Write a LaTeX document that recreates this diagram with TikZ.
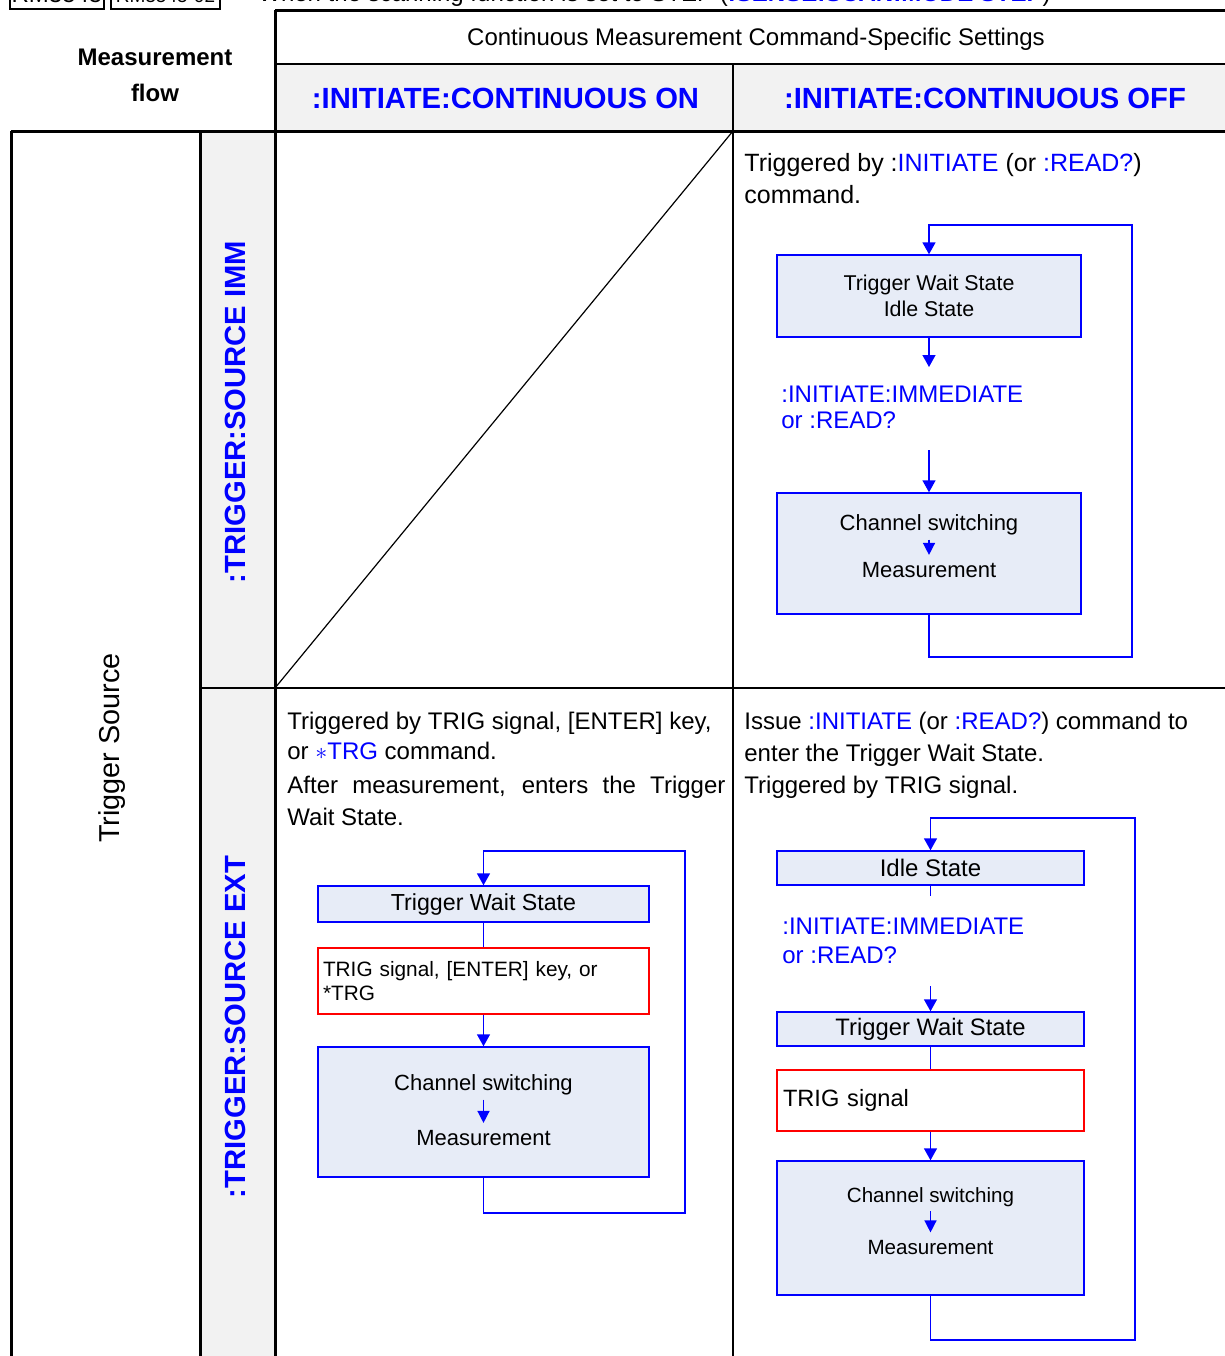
\documentclass[tikz,border=0pt]{standalone}
\usepackage{fontspec}
\setmainfont{Liberation Sans}
\usetikzlibrary{arrows.meta}

\definecolor{cmdblue}{RGB}{0,0,255}
\definecolor{boxfill}{RGB}{231,236,247}
\definecolor{hdrgray}{RGB}{242,242,242}

\newcommand{\cmd}[1]{\textcolor{cmdblue}{#1}}
\newcommand{\fs}[2]{\fontsize{#1}{#2}\selectfont}

\tikzset{
  thickrule/.style={line width=1.5pt},
  thinrule/.style={line width=0.6pt},
  celltext/.style={anchor=base west,inner sep=0pt,align=left,font=\fs{12}{16}},
  cmdtext/.style={anchor=base west,inner sep=0pt,align=left,text=cmdblue},
  colhdr/.style={font=\fs{14.6}{16}\bfseries,text=cmdblue,inner sep=0pt},
  statebox/.style={draw=cmdblue,fill=boxfill,line width=0.7pt,inner sep=0pt},
  trigbox/.style={draw=red,fill=white,line width=0.7pt,inner ysep=0pt,align=left},
  flowtext/.style={inner sep=0pt,font=\fs{11}{13}},
  flowline/.style={draw=cmdblue,line width=0.7pt},
  flowarrow/.style={flowline,-{Triangle[width=6.5pt,length=6pt]}},
  smallarrow/.style={flowline,-{Triangle[width=6pt,length=6pt]},shorten <=2pt,shorten >=3.5pt},
  looparrow/.style={draw=cmdblue,line width=0.8pt,-{Triangle[width=6.5pt,length=6pt]}}
}

\begin{document}
\begin{tikzpicture}[x=0.5pt,y=-0.5pt]
	\useasboundingbox (0,0) rectangle (1225,1356);
	%
	% line cut off at the top of the page
	\draw[thinrule] (10,-40) rectangle (104,9);
	\draw[thinrule] (111,-40) rectangle (220,9);
	\node[anchor=base,inner sep=0pt,font=\fs{12}{14}] (modelA) at (57,2) {RM3545};
	\node[anchor=base,inner sep=0pt,font=\fs{9.5}{12}] (modelB) at (165.5,2) {RM3545-02};
	\node[celltext] (scanmode) at (258,1) {When the scanning function is set to STEP (\textbf{\cmd{:SENSE:SCAN:MODE STEP}})};
	%
	% table
	\fill[hdrgray] (275,64) rectangle (1225,131);
	\fill[hdrgray] (200,131) rectangle (275,1356);
	\draw[thinrule] (275,64) -- (1225,64);
	\draw[thinrule] (733,64) -- (733,1356);
	\draw[thinrule] (200,688) -- (1225,688);
	\draw[thinrule] (275,688) -- (733,131);
	\draw[thickrule] (275,10) -- (1225,10);
	\draw[thickrule] (275,10) -- (275,1356);
	\draw[thickrule] (11,131) -- (1225,131);
	\draw[thickrule] (11,131) -- (11,1356);
	\draw[thickrule] (200,131) -- (200,1356);
	%
	\node[font=\fs{12}{18}\bfseries,align=center] (flowhdr) at (155,75) {Measurement\\flow};
	\node[font=\fs{12}{14}] (conthdr) at (756,39) {Continuous Measurement Command-Specific Settings};
	\node[colhdr] (conton) at (505.5,98) {:INITIATE:CONTINUOUS ON};
	\node[colhdr] (contoff) at (985,98) {:INITIATE:CONTINUOUS OFF};
	\node[colhdr,rotate=90] (srcimm) at (235,412) {:TRIGGER:SOURCE IMM};
	\node[colhdr,rotate=90] (srcext) at (235,1027) {:TRIGGER:SOURCE EXT};
	\node[font=\fs{14.4}{16},rotate=90,inner sep=0pt] (trigsrc) at (112,748) {Trigger Source};
	%
	% IMM / OFF
	\node[celltext,font=\fs{12.5}{16}] (immoff) at (744,203) {Triggered by :\cmd{INITIATE} (or \cmd{:READ?})\\command.};
	\node[statebox,minimum width=152pt,minimum height=41pt,align=center,font=\fs{10.7}{13}] (waitA) at (929,296) {Trigger Wait State\\Idle State};
	\coordinate (arrA) at (929,367);
	\node[cmdtext,font=\fs{12}{13}] (initA) at (781,428) {:INITIATE:IMMEDIATE\\or :READ?};
	\coordinate (fromA) at (929,450);
	\node[statebox,minimum width=152pt,minimum height=60.5pt] (chanA) at (929,553.5) {};
	\node[flowtext] (chA) at (929,525) {Channel switching};
	\node[flowtext] (msA) at (929,570) {Measurement};
	\coordinate (loopA1) at (1132,657);
	\coordinate (loopA2) at (1132,225);
	\draw[flowarrow] (waitA) -- (arrA);
	\draw[flowarrow] (fromA) -- (chanA);
	\draw[smallarrow] (chA) -- (msA);
	\draw[looparrow] (chanA) |- (loopA1) -- (loopA2) -| (waitA);
	%
	% EXT / ON
	\node[celltext,font=\fs{12}{15}] (exton) at (287,759) {Triggered by TRIG signal, [ENTER] key,\\or \cmd{$\ast$TRG} command.};
	\node[celltext] (extonB) at (287,825) {\makebox[219pt][s]{After measurement, enters the Trigger}\\Wait State.};
	\node[statebox,minimum width=165.5pt,minimum height=18pt,font=\fs{11.6}{14}] (waitB) at (483.5,904) {Trigger Wait State};
	\node[trigbox,text width=160.5pt,inner xsep=2.5pt,minimum height=33pt,font=\fs{10.4}{12}] (trigB) at (483.5,981) {TRIG signal, [ENTER] key, or\\{}*TRG};
	\node[statebox,minimum width=165.5pt,minimum height=65pt] (chanB) at (483.5,1112) {};
	\node[flowtext] (chB) at (483.5,1085) {Channel switching};
	\node[flowtext] (msB) at (483.5,1138) {Measurement};
	\coordinate (loopB1) at (685,1213);
	\coordinate (loopB2) at (685,851);
	\draw[flowline] (waitB) -- (trigB);
	\draw[flowarrow] (trigB) -- (chanB);
	\draw[smallarrow] (chB) -- (msB);
	\draw[looparrow] (chanB) |- (loopB1) -- (loopB2) -| (waitB);
	%
	% EXT / OFF
	\node[celltext] (extoff) at (744,793) {Issue \cmd{:INITIATE} (or \cmd{:READ?}) command to\\enter the Trigger Wait State.\\Triggered by TRIG signal.};
	\node[statebox,minimum width=153.5pt,minimum height=17pt,font=\fs{12}{14}] (idleC) at (930.5,868) {Idle State};
	\coordinate (idleCend) at (930.5,896);
	\node[cmdtext,font=\fs{12}{14.5}] (initC) at (782,963) {:INITIATE:IMMEDIATE\\or :READ?};
	\coordinate (fromC) at (930.5,986);
	\node[statebox,minimum width=153.5pt,minimum height=17pt,font=\fs{11.9}{14}] (waitC) at (930.5,1029) {Trigger Wait State};
	\node[trigbox,text width=147.5pt,inner xsep=3pt,minimum height=30.5pt,font=\fs{11.8}{14}] (trigC) at (930.5,1100.5) {TRIG signal};
	\node[statebox,minimum width=153.5pt,minimum height=67pt] (chanC) at (930.5,1228) {};
	\node[flowtext,font=\fs{10.3}{12}] (chC) at (930.5,1197) {Channel switching};
	\node[flowtext,font=\fs{10.3}{12}] (msC) at (930.5,1247) {Measurement};
	\coordinate (loopC1) at (1135,1340);
	\coordinate (loopC2) at (1135,818);
	\draw[flowline] (idleC) -- (idleCend);
	\draw[flowarrow] (fromC) -- (waitC);
	\draw[flowline] (waitC) -- (trigC);
	\draw[flowarrow] (trigC) -- (chanC);
	\draw[smallarrow] (chC) -- (msC);
	\draw[looparrow] (chanC) |- (loopC1) -- (loopC2) -| (idleC);
\end{tikzpicture}
\end{document}
